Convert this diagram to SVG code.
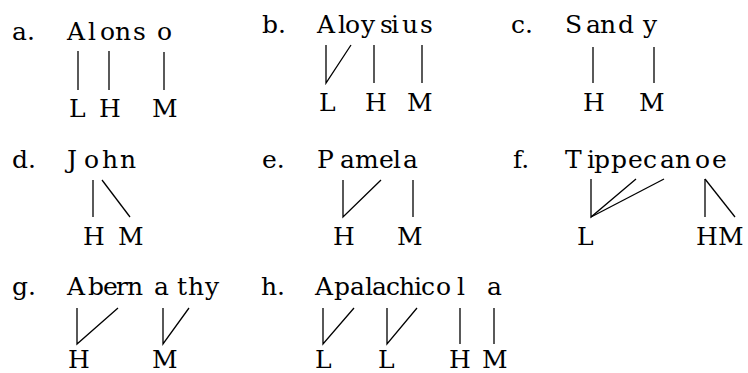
<svg xmlns="http://www.w3.org/2000/svg" width="748" height="373" viewBox="0 0 748 373">
<style>
text{font-family:"DejaVu Serif","Liberation Serif",serif;font-size:25px;fill:#000}
.c line,.c polyline{stroke:#000;stroke-width:1.3;fill:none;stroke-linecap:butt;stroke-linejoin:miter}
</style>
<rect width="748" height="373" fill="#fff"/>
<g id="ex-a">
<text x="12" y="40">a.</text>
<text x="67 88 100 115 133 157" y="40">Alonso</text>
<text x="69" y="117">L</text><text x="99" y="117">H</text><text x="152" y="117">M</text>
</g>
<g id="ex-b">
<text x="262" y="33">b.</text>
<text x="317 338 345 361 380 391 402 420" y="33">Aloysius</text>
<text x="319" y="111">L</text><text x="365" y="111">H</text><text x="407" y="111">M</text>
</g>
<g id="ex-c">
<text x="511" y="33">c.</text>
<text x="565 586 600 618 643" y="33">Sandy</text>
<text x="583" y="111">H</text><text x="639" y="111">M</text>
</g>
<g id="ex-d">
<text x="12" y="168">d.</text>
<text x="67 84 102 120" y="168">John</text>
<text x="83" y="245">H</text><text x="118" y="245">M</text>
</g>
<g id="ex-e">
<text x="262" y="168">e.</text>
<text x="317 340 355 379 393 403" y="168">Pamela</text>
<text x="333" y="245">H</text><text x="397" y="245">M</text>
</g>
<g id="ex-f">
<text x="513" y="168">f.</text>
<text x="565 587 594 611 628 643 660 675 695 712" y="168">Tippecanoe</text>
<text x="577" y="245">L</text><text x="696" y="245">H</text><text x="718" y="245">M</text>
</g>
<g id="ex-g">
<text x="12" y="295">g.</text>
<text x="67 88 103 116 127 154 177 188 205" y="295">Abernathy</text>
<text x="68" y="368">H</text><text x="152" y="368">M</text>
</g>
<g id="ex-h">
<text x="261" y="295">h.</text>
<text x="315 334 350 365 372 386 399 414 421 436 457 487" y="295">Apalachicola</text>
<text x="315" y="368">L</text><text x="378" y="368">L</text><text x="449" y="368">H</text><text x="482" y="368">M</text>
</g>
<g id="connectors" class="c">
<line x1="78" y1="51" x2="78" y2="90"/>
<line x1="109" y1="51" x2="109" y2="90"/>
<line x1="164" y1="52" x2="164" y2="90"/>
<polyline points="326,45 326,83 351,45"/>
<line x1="374" y1="45" x2="374" y2="83"/>
<line x1="422" y1="45" x2="422" y2="83"/>
<line x1="593" y1="47" x2="593" y2="83"/>
<line x1="654" y1="47" x2="654" y2="83"/>
<line x1="93" y1="180" x2="93" y2="217"/>
<line x1="102" y1="180" x2="130" y2="217"/>
<polyline points="343,180 343,217 381,180"/>
<line x1="413" y1="180" x2="413" y2="217"/>
<polyline points="591,179 591,217 636,179"/>
<line x1="591" y1="217" x2="664" y2="179"/>
<line x1="705" y1="179" x2="705" y2="217"/>
<line x1="705" y1="179" x2="735" y2="217"/>
<polyline points="77,308 77,344 118,308"/>
<polyline points="163,308 163,344 189,308"/>
<polyline points="323,308 323,344 354,308"/>
<polyline points="387,308 387,344 417,308"/>
<line x1="460" y1="308" x2="460" y2="344"/>
<line x1="494" y1="308" x2="494" y2="344"/>
</g>
</svg>
